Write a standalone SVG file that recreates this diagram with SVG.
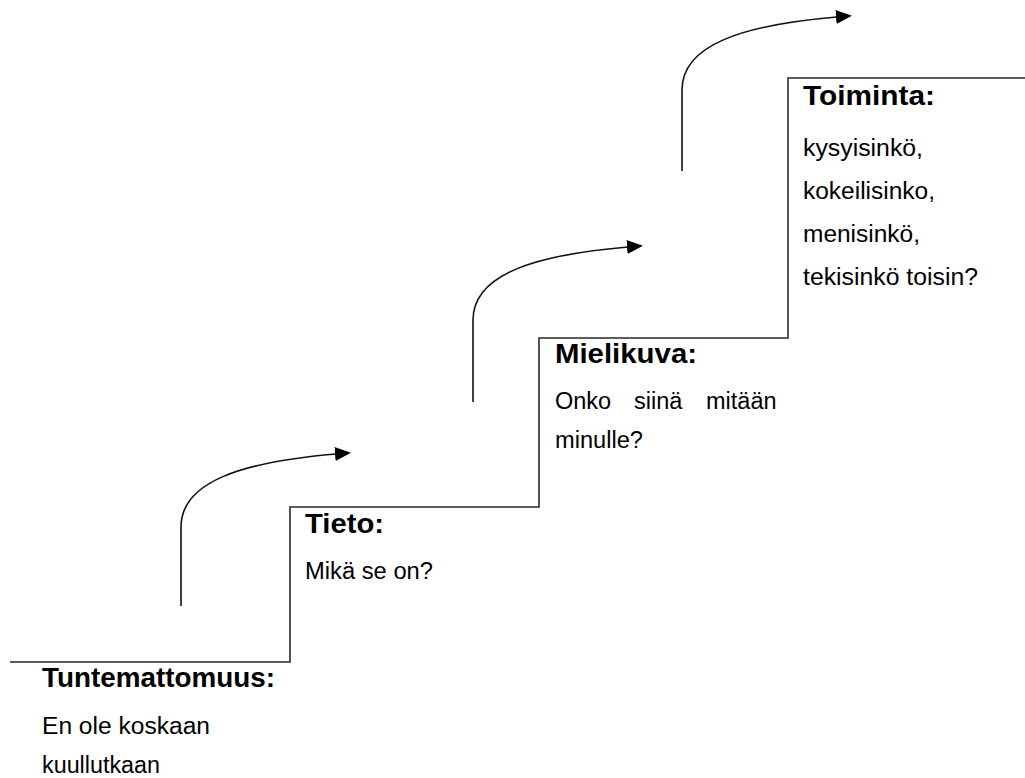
<svg xmlns="http://www.w3.org/2000/svg" width="1025" height="778" viewBox="0 0 1025 778">
<style>
.bg{fill:#fff}
.stair{fill:none;stroke:#2a2a2a;stroke-width:1.6}
.arr{fill:none;stroke:#111;stroke-width:1.6}
.h{font-family:"Liberation Sans",Arial,sans-serif;font-weight:bold;font-size:28px;fill:#000}
.t{font-family:"Liberation Sans",Arial,sans-serif;font-size:23.5px;fill:#000}
</style>
<defs>
<marker id="ah" markerUnits="userSpaceOnUse" markerWidth="18" markerHeight="16" refX="1" refY="7" orient="auto">
<path d="M0,0 L16,7 L0,14 z" fill="#000"/>
</marker>
</defs>
<rect class="bg" x="0" y="0" width="1025" height="778"/>
<g id="stairs">
<path class="stair" d="M10,662 H290 V507 H539 V338 H788 V78 H1025"/>
</g>
<g id="connectors">
<path class="arr" marker-end="url(#ah)" d="M181,606 V527 C181,482 241,462 336,454"/>
<path class="arr" marker-end="url(#ah)" d="M473,402 V320 C473,275 533,255 628,247"/>
<path class="arr" marker-end="url(#ah)" d="M682,171 V90 C682,45 742,25 837,17"/>
</g>
<g id="tuntemattomuus">
<text class="h" x="42" y="687" textLength="233" lengthAdjust="spacingAndGlyphs">Tuntemattomuus:</text>
<text class="t" x="42" y="734" textLength="168" lengthAdjust="spacingAndGlyphs">En ole koskaan</text>
<text class="t" x="42" y="773" textLength="118" lengthAdjust="spacingAndGlyphs">kuullutkaan</text>
</g>
<g id="tieto">
<text class="h" x="305" y="533" textLength="79" lengthAdjust="spacingAndGlyphs">Tieto:</text>
<text class="t" x="305" y="579" textLength="128" lengthAdjust="spacingAndGlyphs">Mikä se on?</text>
</g>
<g id="mielikuva">
<text class="h" x="555" y="363" textLength="142" lengthAdjust="spacingAndGlyphs">Mielikuva:</text>
<text class="t" y="409"><tspan x="555">Onko</tspan><tspan x="634">siinä</tspan><tspan x="706">mitään</tspan></text>
<text class="t" x="555" y="448" textLength="88" lengthAdjust="spacingAndGlyphs">minulle?</text>
</g>
<g id="toiminta">
<text class="h" x="803" y="105" textLength="132" lengthAdjust="spacingAndGlyphs">Toiminta:</text>
<text class="t" x="803" y="156" textLength="120" lengthAdjust="spacingAndGlyphs">kysyisinkö,</text>
<text class="t" x="803" y="199" textLength="132" lengthAdjust="spacingAndGlyphs">kokeilisinko,</text>
<text class="t" x="803" y="242" textLength="117" lengthAdjust="spacingAndGlyphs">menisinkö,</text>
<text class="t" x="803" y="285" textLength="175" lengthAdjust="spacingAndGlyphs">tekisinkö toisin?</text>
</g>
</svg>
